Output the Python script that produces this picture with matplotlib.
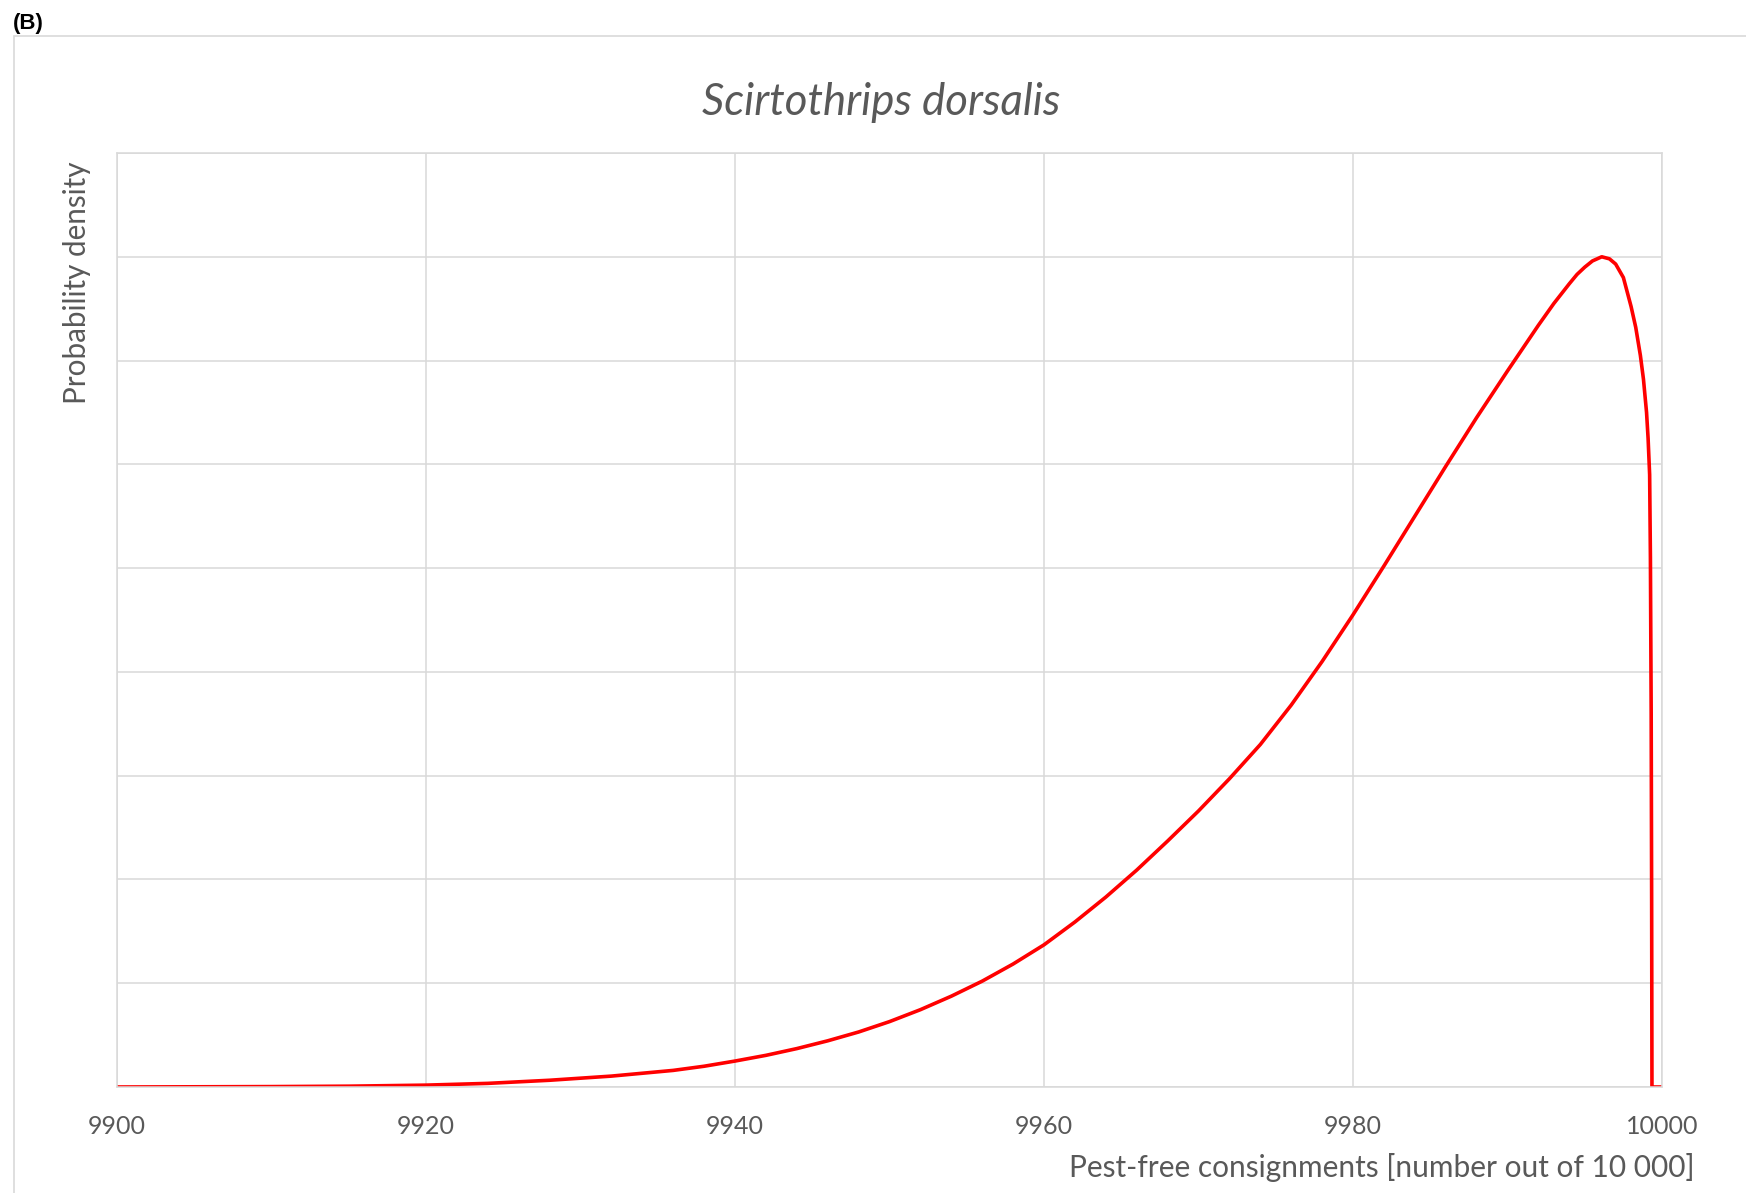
import matplotlib
matplotlib.use("Agg")
import matplotlib.pyplot as plt
from matplotlib.patches import Rectangle

# values
consignments = [9900, 9905, 9910, 9915, 9920, 9924, 9928, 9932, 9936, 9938,
                9940, 9942, 9944, 9946, 9948, 9950, 9952, 9954, 9956, 9958,
                9960, 9962, 9964, 9966, 9968, 9970, 9972, 9974, 9976, 9978,
                9980, 9982, 9984, 9986, 9988, 9990, 9992, 9993, 9994, 9994.5,
                9995, 9995.5, 9996.1, 9996.6, 9997, 9997.5, 9998, 9998.3, 9998.6,
                9998.8, 9999, 9999.1, 9999.2, 9999.25, 9999.3, 9999.33, 9999.35,
                10000]
density = [0.000, 0.002, 0.004, 0.008, 0.018, 0.035, 0.065, 0.105, 0.160, 0.200,
           0.250, 0.305, 0.370, 0.445, 0.530, 0.630, 0.745, 0.875, 1.020, 1.185,
           1.370, 1.590, 1.830, 2.090, 2.370, 2.660, 2.970, 3.300, 3.680, 4.100,
           4.550, 5.020, 5.500, 5.980, 6.450, 6.900, 7.340, 7.550, 7.740, 7.830,
           7.900, 7.960, 8.000, 7.980, 7.930, 7.800, 7.520, 7.320, 7.050,
           6.820, 6.500, 6.250, 5.900, 5.100, 3.600, 1.800, 0.000,
           0.000]
x_ticks = [9900, 9920, 9940, 9960, 9980, 10000]
y_grid = list(range(0, 10))

W, H = 1746, 1193
grid_col = "#D9D9D9"
text_col = "#595959"

fig = plt.figure(figsize=(W / 100, H / 100), dpi=100)
ax = fig.add_axes([117 / W, 1 - 1087 / H, (1662 - 117) / W, (1087 - 153) / H])

ax.plot(consignments, density, color="#FF0000", lw=2.6,
        solid_joinstyle="round", solid_capstyle="round")

ax.set_xlim(9900, 10000)
ax.set_ylim(0, 9)
ax.set_xticks(x_ticks)
ax.set_yticks(y_grid)
ax.set_yticklabels([])
ax.grid(True, color=grid_col, lw=1.1)
ax.set_axisbelow(True)
for s in ax.spines.values():
    s.set_color(grid_col)
    s.set_linewidth(1.1)
ax.tick_params(axis="both", length=0)
ax.tick_params(axis="x", pad=20, labelsize=18, labelcolor=text_col)
for lab in ax.get_xticklabels():
    lab.set_family("Lato")

fig.text(881 / W, 1 - 115 / H, "Scirtothrips dorsalis", ha="center", va="baseline",
         fontsize=31.5, style="italic", color=text_col, family="Lato")
fig.text(77 / W, 1 - 162 / H, "Probability density", rotation=90, ha="center",
         va="top", fontsize=21.3, color=text_col, family="Lato")
fig.text(1695 / W, 1 - 1167 / H, "Pest-free consignments [number out of 10 000]",
         ha="right", va="center", fontsize=21.5, color=text_col, family="Lato")
fig.text(13 / W, 1 - 29 / H, "(B)", ha="left", va="baseline", fontsize=16,
         fontweight="bold", color="black", family="Liberation Sans")

# outer panel frame
fig.patches.append(Rectangle((14 / W, -0.05), 1.1, 1 - 36 / H + 0.05,
                             transform=fig.transFigure, fill=False,
                             edgecolor=grid_col, lw=1.2))

fig.savefig("out.png", dpi=100)
